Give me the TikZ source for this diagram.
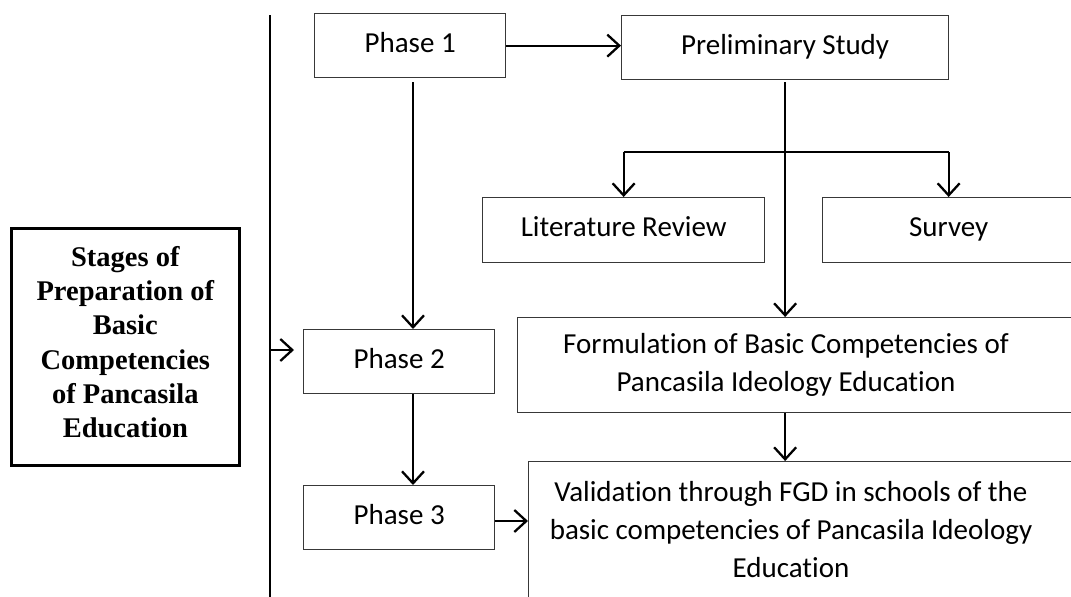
\documentclass[tikz,border=0pt]{standalone}
\usepackage{fontspec}
\setmainfont{Carlito}[Ligatures=NoCommon]
\newfontfamily\serifb{Liberation Serif}
\usetikzlibrary{arrows.meta}
\begin{document}
\begin{tikzpicture}[x=1pt,y=-1pt,
  box/.style={draw=black!78, line width=1.3pt, rectangle, inner sep=0pt, anchor=north west,
    align=center, font=\fontsize{29}{37}\selectfont, text height=20pt, text depth=7pt},
  txt/.style={align=center, inner sep=0pt, font=\fontsize{29}{38}\selectfont},
  stg/.style={draw=black, line width=2.7pt, rectangle, inner sep=0pt, anchor=north west,
    align=center, font=\serifb\bfseries\fontsize{28.5}{34.3}\selectfont, text depth=10pt},
  link/.style={line width=2.3pt},
  conn/.style={line width=2.3pt, -{Straight Barb[length=12pt,width=22pt,line width=2.3pt]}}
]
\useasboundingbox (0,0) rectangle (1071,597);

% boxes
\node[box, minimum width=191pt, minimum height=64pt] (p1) at (314,13) {Phase 1};
\node[box, minimum width=327pt, minimum height=64pt] (pre) at (621,15) {Preliminary Study};
\node[box, minimum width=282pt, minimum height=65pt] (lit) at (482,197) {Literature Review};
\node[box, minimum width=252pt, minimum height=65pt] (sur) at (822,197) {Survey};
\node[box, minimum width=191pt, minimum height=64pt] (p2) at (303,329) {Phase 2};
\node[box, minimum width=191pt, minimum height=64pt] (p3) at (303,485) {Phase 3};
\node[box, minimum width=560pt, minimum height=95pt] (form) at (517,317) {};
\node[txt] (formtxt) at (786,365) {Formulation of Basic Competencies of\\Pancasila Ideology Education};
\node[box, minimum width=550pt, minimum height=142pt] (val) at (528,461) {};
\node[txt] (valtxt) at (791,530) {Validation through FGD in schools of the\\basic competencies of Pancasila Ideology\\Education};
\node[stg, minimum width=228pt, minimum height=237pt] (stages) at (10,227)
  {Stages of\\Preparation of\\Basic\\Competencies\\of Pancasila\\Education};

% helper coordinates
\coordinate (vtop) at (270,15);
\coordinate (vbot) at (270,600);
\coordinate (v2) at (270,350);
\coordinate (a2) at (294,350);
\coordinate (cx) at (413,0);
\coordinate (br) at (784,152);
\coordinate (cy) at (0,521);

% main vertical line
\draw[line width=2.7pt] (vtop) -- (vbot);
\draw[conn] (v2) -- (a2);

% connectors
\draw[conn] (p1.east) -- (pre.west |- p1.east);
\draw[conn] ([yshift=-4pt]p1.south -| cx) -- (p2.north -| cx);
\draw[conn] (p2.south -| cx) -- (p3.north -| cx);
\draw[conn] ([yshift=-2pt]pre.south) -- (pre.south |- form.north);
\draw[link] (lit.north |- br) -- (sur.north |- br);
\draw[conn] (lit.north |- br) -- (lit.north);
\draw[conn] (sur.north |- br) -- (sur.north);
\draw[conn] (form.south -| pre.south) -- (val.north -| pre.south);
\draw[conn] (p3.east |- cy) -- (val.west |- cy);
\end{tikzpicture}
\end{document}
